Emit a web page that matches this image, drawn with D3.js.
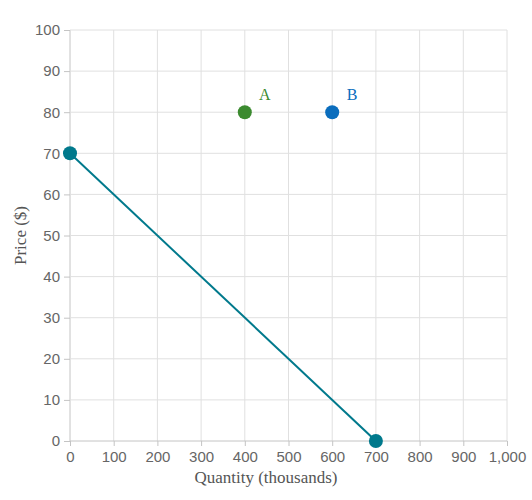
<!DOCTYPE html>
<html>
<head>
<meta charset="utf-8">
<script src="https://cdn.jsdelivr.net/npm/d3@7"></script>
<style>
  body { margin: 0; background: #fff; }
</style>
</head>
<body>
<div id="chart"></div>
<script>
// Demand line endpoints (quantity in thousands, price in $)
const lineQty = [0, 700];
const linePrice = [70, 0];

// Labelled points
const pointNames = ['A', 'B'];
const pointQty = [400, 600];
const pointPrice = [80, 80];
const pointColors = ['#3b8a2f', '#0a6dbd'];

const xTicks = [0, 100, 200, 300, 400, 500, 600, 700, 800, 900, 1000];
const yTicks = [0, 10, 20, 30, 40, 50, 60, 70, 80, 90, 100];

const width = 532, height = 500;
const margin = { top: 30, right: 25, bottom: 59, left: 70 };
const innerW = width - margin.left - margin.right;
const innerH = height - margin.top - margin.bottom;

const svg = d3.select('#chart')
  .append('svg')
  .attr('width', width)
  .attr('height', height);

const g = svg.append('g')
  .attr('transform', `translate(${margin.left},${margin.top})`);

const x = d3.scaleLinear().domain([0, 1000]).range([0, innerW]);
const y = d3.scaleLinear().domain([0, 100]).range([innerH, 0]);

// Grid
g.append('g')
  .selectAll('line')
  .data(xTicks)
  .join('line')
  .attr('x1', d => x(d)).attr('x2', d => x(d))
  .attr('y1', 0).attr('y2', innerH)
  .attr('stroke', d => d === 0 ? '#c4c4c4' : '#e0e0e0')
  .attr('stroke-width', 1);

g.append('g')
  .selectAll('line')
  .data(yTicks)
  .join('line')
  .attr('x1', 0).attr('x2', innerW)
  .attr('y1', d => y(d)).attr('y2', d => y(d))
  .attr('stroke', d => d === 0 ? '#c4c4c4' : '#e0e0e0')
  .attr('stroke-width', 1);

// Axes
const xAxis = g.append('g')
  .attr('transform', `translate(0,${innerH})`)
  .call(d3.axisBottom(x).tickValues(xTicks).tickSize(5).tickSizeOuter(0).tickFormat(d3.format(',')));

const yAxis = g.append('g')
  .call(d3.axisLeft(y).tickValues(yTicks).tickSize(6).tickSizeOuter(0));

[xAxis, yAxis].forEach(ax => {
  ax.select('.domain').remove();
  ax.selectAll('.tick line').attr('stroke', '#c4c4c4');
  ax.selectAll('.tick text')
    .attr('fill', '#666')
    .style('font-family', '"Liberation Sans", Arial, sans-serif')
    .style('font-size', '15px');
});
xAxis.selectAll('.tick text').attr('y', 21).attr('dy', 0);
yAxis.selectAll('.tick text').attr('x', -10);

// Axis titles
svg.append('text')
  .attr('x', width / 2)
  .attr('y', 483)
  .attr('text-anchor', 'middle')
  .attr('fill', '#555')
  .style('font-family', '"Liberation Serif", "Times New Roman", serif')
  .style('font-size', '17px')
  .text('Quantity (thousands)');

svg.append('text')
  .attr('transform', `translate(26,${margin.top + innerH / 2}) rotate(-90)`)
  .attr('text-anchor', 'middle')
  .attr('fill', '#555')
  .style('font-family', '"Liberation Serif", "Times New Roman", serif')
  .style('font-size', '17px')
  .text('Price ($)');

// Demand line
const lineData = lineQty.map((q, i) => ({ q, p: linePrice[i] }));
g.append('path')
  .datum(lineData)
  .attr('fill', 'none')
  .attr('stroke', '#00798c')
  .attr('stroke-width', 2)
  .attr('d', d3.line().x(d => x(d.q)).y(d => y(d.p)));

g.selectAll('.end-dot')
  .data(lineData)
  .join('circle')
  .attr('class', 'end-dot')
  .attr('cx', d => x(d.q))
  .attr('cy', d => y(d.p))
  .attr('r', 7)
  .attr('fill', '#00798c');

// Points A and B
const pts = pointNames.map((name, i) => ({ name, q: pointQty[i], p: pointPrice[i], color: pointColors[i] }));
g.selectAll('.pt')
  .data(pts)
  .join('circle')
  .attr('class', 'pt')
  .attr('cx', d => x(d.q))
  .attr('cy', d => y(d.p))
  .attr('r', 7)
  .attr('fill', d => d.color);

g.selectAll('.pt-label')
  .data(pts)
  .join('text')
  .attr('class', 'pt-label')
  .attr('x', d => x(d.q) + 20)
  .attr('y', d => y(d.p) - 12)
  .attr('text-anchor', 'middle')
  .attr('fill', d => d.color)
  .style('font-family', '"Liberation Serif", "Times New Roman", serif')
  .style('font-size', '16px')
  .text(d => d.name);
</script>
</body>
</html>
